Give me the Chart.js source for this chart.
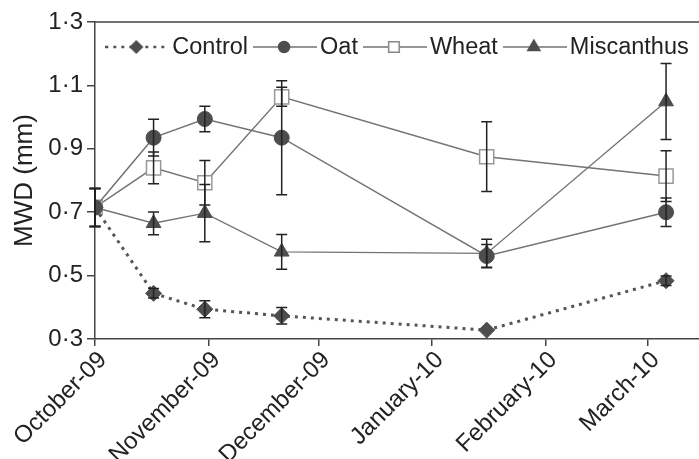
<!DOCTYPE html>
<html>
<head>
<meta charset="utf-8">
<script src="https://cdn.jsdelivr.net/npm/chart.js@4.4.1/dist/chart.umd.min.js"></script>
<style>
  body { margin: 0; background: #fff; }
</style>
</head>
<body>
<canvas id="chart1" width="699" height="459"></canvas>
<script>
// sampling dates and the month ticks along the bottom
const sampleDates = ['2009-10-01', '2009-10-17', '2009-10-31', '2009-11-21', '2010-01-16', '2010-03-06'];
const monthDates = ['2009-10-01', '2009-11-01', '2009-12-01', '2010-01-01', '2010-02-01', '2010-03-01'];
const monthLabels = ['October-09', 'November-09', 'December-09', 'January-10', 'February-10', 'March-10'];
const axisEnd = '2010-03-15';
const yTicks = [0.3, 0.5, 0.7, 0.9, 1.1, 1.3];

// MWD (mm) per treatment, with standard errors
const control = [0.715, 0.444, 0.394, 0.373, 0.328, 0.484];
const controlErr = [0.06, 0.015, 0.027, 0.026, 0, 0.015];
const oat = [0.715, 0.935, 0.994, 0.935, 0.562, 0.70];
const oatErr = [0.06, 0.058, 0.04, 0.18, 0.036, 0.045];
const wheat = [0.715, 0.84, 0.793, 1.064, 0.875, 0.814];
const wheatErr = [0.06, 0.05, 0.07, 0.03, 0.11, 0.08];
const miscanthus = [0.715, 0.665, 0.697, 0.575, 0.57, 1.049];
const miscanthusErr = [0.06, 0.036, 0.09, 0.055, 0.045, 0.12];

const font = "'Liberation Sans', Arial, sans-serif";
const dark = '#4d4d4d';
const lineGrey = '#737373';

const t0 = Date.parse(sampleDates[0]);
const dayOf = d => Math.round((Date.parse(d) - t0) / 86400000);
const days = sampleDates.map(dayOf);
const monthDays = monthDates.map(dayOf);
const pts = arr => arr.map((v, i) => ({x: days[i], y: v}));

// little line + marker picture for each legend entry
function legendIcon(style, radius, fill, stroke, dashed) {
    const c = document.createElement('canvas');
    c.width = 64;
    c.height = 22;
    const g = c.getContext('2d');
    g.strokeStyle = dashed ? '#555' : lineGrey;
    g.lineWidth = dashed ? 2.5 : 1.3;
    g.setLineDash(dashed ? [3, 5] : []);
    g.beginPath();
    g.moveTo(0, 11);
    g.lineTo(64, 11);
    g.stroke();
    g.setLineDash([]);
    g.fillStyle = fill;
    g.strokeStyle = stroke;
    g.lineWidth = 1.5;
    Chart.helpers.drawPoint(g, {pointStyle: style, radius: radius, borderWidth: 1.5, rotation: 0}, 31, 11);
    return c;
}

const icons = [
    legendIcon('rectRot', 6, dark, dark, true),
    legendIcon('circle', 5.5, dark, dark, false),
    legendIcon('rect', 7.5, '#fff', '#888', false),
    legendIcon('triangle', 7, dark, dark, false)
];

const errorBars = {
    id: 'errorBars',
    afterDatasetsDraw(chart) {
        const {ctx, scales: {x, y}} = chart;
        ctx.save();
        ctx.strokeStyle = '#222';
        ctx.lineWidth = 1.5;
        chart.data.datasets.forEach(ds => {
            ds.data.forEach((p, i) => {
                const e = ds.errors[i];
                if (!e) return;
                const px = x.getPixelForValue(p.x);
                const top = y.getPixelForValue(p.y + e);
                const bot = y.getPixelForValue(p.y - e);
                ctx.beginPath();
                ctx.moveTo(px, top); ctx.lineTo(px, bot);
                ctx.moveTo(px - 5.5, top); ctx.lineTo(px + 5.5, top);
                ctx.moveTo(px - 5.5, bot); ctx.lineTo(px + 5.5, bot);
                ctx.stroke();
            });
        });
        ctx.restore();
    }
};

// top edge of the plot box and the one-row legend inside it
const frameAndLegend = {
    id: 'frameAndLegend',
    afterDraw(chart) {
        const {ctx, chartArea: a} = chart;
        ctx.save();
        ctx.strokeStyle = '#444';
        ctx.lineWidth = 1.5;
        ctx.beginPath();
        ctx.moveTo(a.left, a.top);
        ctx.lineTo(a.right, a.top);
        ctx.stroke();

        ctx.font = '23.5px ' + font;
        ctx.fillStyle = '#222';
        ctx.textBaseline = 'middle';
        const items = chart.data.datasets.map((ds, i) => ({
            icon: icons[i],
            text: ds.label,
            w: ctx.measureText(ds.label).width
        }));
        const total = items.reduce((s, it) => s + 67 + it.w + 5, -5);
        let x = (a.left + a.right) / 2 - total / 2;
        const y = a.top + 25;
        items.forEach(it => {
            ctx.drawImage(it.icon, x, y - 11);
            ctx.fillText(it.text, x + 67, y + 1);
            x += 67 + it.w + 5;
        });
        ctx.restore();
    }
};

new Chart(document.getElementById('chart1'), {
    type: 'line',
    data: {
        datasets: [
            {
                label: 'Control',
                data: pts(control),
                errors: controlErr,
                borderColor: '#555',
                borderWidth: 3,
                borderDash: [3, 5],
                pointStyle: 'rectRot',
                pointRadius: 8,
                pointBackgroundColor: dark,
                pointBorderColor: dark,
                pointBorderWidth: 1
            },
            {
                label: 'Oat',
                data: pts(oat),
                errors: oatErr,
                borderColor: lineGrey,
                borderWidth: 1.4,
                pointStyle: 'circle',
                pointRadius: 7.5,
                pointBackgroundColor: dark,
                pointBorderColor: dark,
                pointBorderWidth: 1
            },
            {
                label: 'Wheat',
                data: pts(wheat),
                errors: wheatErr,
                borderColor: lineGrey,
                borderWidth: 1.4,
                pointStyle: 'rect',
                pointRadius: 10,
                pointBackgroundColor: '#fff',
                pointBorderColor: '#999',
                pointBorderWidth: 1.5
            },
            {
                label: 'Miscanthus',
                data: pts(miscanthus),
                errors: miscanthusErr,
                borderColor: lineGrey,
                borderWidth: 1.4,
                pointStyle: 'triangle',
                pointRadius: 8.5,
                pointBackgroundColor: dark,
                pointBorderColor: dark,
                pointBorderWidth: 1
            }
        ]
    },
    options: {
        responsive: false,
        animation: false,
        layout: {
            autoPadding: false,
            padding: {top: 22, right: 0, bottom: 0, left: 0}
        },
        plugins: {
            tooltip: {enabled: false},
            legend: {display: false}
        },
        scales: {
            x: {
                type: 'linear',
                min: 0,
                max: dayOf(axisEnd),
                afterBuildTicks: axis => {
                    axis.ticks = monthDays.map(v => ({value: v}));
                },
                afterFit: axis => {
                    axis.height = 120;
                    axis.paddingLeft = 0;
                    axis.paddingRight = 0;
                },
                ticks: {
                    minRotation: 45,
                    maxRotation: 45,
                    padding: 0,
                    labelOffset: 8,
                    color: '#222',
                    font: {family: font, size: 24},
                    callback: v => monthLabels[monthDays.indexOf(v)]
                },
                grid: {drawOnChartArea: false, tickLength: 7, color: '#444', lineWidth: 1.5},
                border: {color: '#444', width: 1.5}
            },
            y: {
                min: 0.3,
                max: 1.3,
                afterBuildTicks: axis => {
                    axis.ticks = yTicks.map(v => ({value: v}));
                },
                afterFit: axis => {
                    axis.width = 95;
                },
                ticks: {
                    padding: 4,
                    color: '#222',
                    font: {family: font, size: 24},
                    callback: v => v.toFixed(1).replace('.', '·')
                },
                title: {
                    display: true,
                    text: 'MWD (mm)',
                    color: '#222',
                    padding: {top: 9, bottom: 0},
                    font: {family: font, size: 26}
                },
                grid: {drawOnChartArea: false, tickLength: 8, color: '#444', lineWidth: 1.5},
                border: {color: '#444', width: 1.5}
            }
        }
    },
    plugins: [errorBars, frameAndLegend]
});
</script>
</body>
</html>
